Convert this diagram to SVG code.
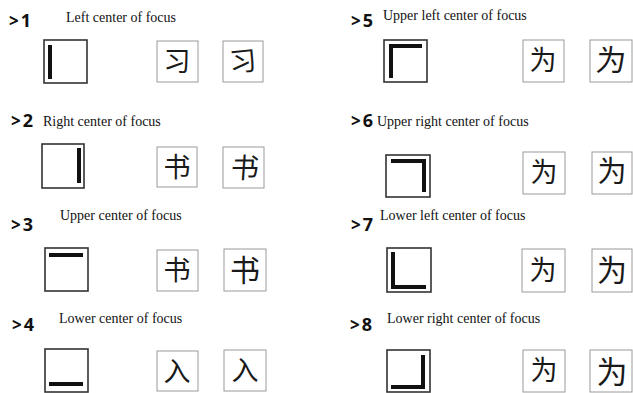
<svg xmlns="http://www.w3.org/2000/svg" width="633" height="393" viewBox="0 0 633 393">
<style>
.num{font-family:"Open Sans","DejaVu Sans",sans-serif;font-weight:bold;font-size:18px;fill:#111}
.gt{font-size:17px}
.lbl{font-family:"Liberation Serif",serif;font-size:14px;fill:#111}
.fb{fill:#fff;stroke:#333;stroke-width:1.6}
.bar{fill:#111}
.cb{fill:#fff;stroke:#9a9a9a;stroke-width:1}
.ch{font-family:"Noto Sans CJK SC",sans-serif;font-weight:400;font-size:27px;fill:#1a1a1a;text-anchor:middle}
</style>
<rect width="633" height="393" fill="#fff"/>

<g id="item1">
<text class="num" x="9" y="27"><tspan class="gt">&gt;</tspan><tspan dx="2">1</tspan></text>
<text class="lbl" x="66" y="22">Left center of focus</text>
<rect class="fb" x="44" y="40" width="43" height="43"/>
<rect class="bar" x="48" y="45" width="4" height="34"/>
<rect class="cb" x="157" y="41" width="41" height="41"/>
<text class="ch" x="177" y="71">习</text>
<rect class="cb" x="223" y="41" width="40" height="41"/>
<text class="ch" x="243" y="71" transform="rotate(-6 243 61)">习</text>
</g>

<g id="item2">
<text class="num" x="11" y="127"><tspan class="gt">&gt;</tspan><tspan dx="2">2</tspan></text>
<text class="lbl" x="43" y="126">Right center of focus</text>
<rect class="fb" x="42" y="144" width="42" height="44"/>
<rect class="bar" x="77" y="148" width="4" height="35"/>
<rect class="cb" x="157" y="147" width="40" height="40"/>
<text class="ch" x="177" y="177">书</text>
<rect class="cb" x="223" y="147" width="41" height="41"/>
<text class="ch" x="245" y="178" transform="translate(245 168) skewX(-4) translate(-245 -168)" style="font-size:28px">书</text>
</g>

<g id="item3">
<text class="num" x="11" y="231"><tspan class="gt">&gt;</tspan><tspan dx="2">3</tspan></text>
<text class="lbl" x="60" y="220">Upper center of focus</text>
<rect class="fb" x="45" y="248" width="43" height="43"/>
<rect class="bar" x="49" y="253" width="34" height="4"/>
<rect class="cb" x="157" y="250" width="41" height="41"/>
<text class="ch" x="177" y="280">书</text>
<rect class="cb" x="224" y="249" width="42" height="42"/>
<text class="ch" x="245" y="281" style="font-size:30px">书</text>
</g>

<g id="item4">
<text class="num" x="12" y="331"><tspan class="gt">&gt;</tspan><tspan dx="2">4</tspan></text>
<text class="lbl" x="59" y="323">Lower center of focus</text>
<rect class="fb" x="45" y="349" width="43" height="43"/>
<rect class="bar" x="49" y="382" width="34" height="4"/>
<rect class="cb" x="157" y="351" width="41" height="40"/>
<text class="ch" x="177" y="381">入</text>
<rect class="cb" x="224" y="350" width="42" height="41"/>
<text class="ch" x="245" y="380">入</text>
</g>

<g id="item5">
<text class="num" x="351" y="27"><tspan class="gt">&gt;</tspan><tspan dx="2">5</tspan></text>
<text class="lbl" x="383" y="20">Upper left center of focus</text>
<rect class="fb" x="384" y="40" width="43" height="42"/>
<rect class="bar" x="389" y="44" width="4" height="34"/>
<rect class="bar" x="389" y="44" width="33" height="4"/>
<rect class="cb" x="523" y="40" width="41" height="42"/>
<text class="ch" x="543" y="70">为</text>
<rect class="cb" x="590" y="40" width="42" height="42"/>
<text class="ch" x="611" y="71" transform="translate(611 61) skewX(-6) translate(-611 -61)" style="font-size:30px">为</text>
</g>

<g id="item6">
<text class="num" x="351" y="127"><tspan class="gt">&gt;</tspan><tspan dx="2">6</tspan></text>
<text class="lbl" x="377" y="126">Upper right center of focus</text>
<rect class="fb" x="386" y="155" width="44" height="42"/>
<rect class="bar" x="391" y="159" width="35" height="4"/>
<rect class="bar" x="422" y="159" width="4" height="33"/>
<rect class="cb" x="523" y="152" width="42" height="42"/>
<text class="ch" x="544" y="182">为</text>
<rect class="cb" x="592" y="152" width="40" height="42"/>
<text class="ch" x="612" y="182" style="font-size:29px">为</text>
</g>

<g id="item7">
<text class="num" x="351" y="231"><tspan class="gt">&gt;</tspan><tspan dx="2">7</tspan></text>
<text class="lbl" x="380" y="220">Lower left center of focus</text>
<rect class="fb" x="387" y="248" width="44" height="44"/>
<rect class="bar" x="391" y="252" width="4" height="36"/>
<rect class="bar" x="391" y="285" width="35" height="4"/>
<rect class="cb" x="522" y="249" width="43" height="43"/>
<text class="ch" x="543" y="280">为</text>
<rect class="cb" x="592" y="249" width="40" height="43"/>
<text class="ch" x="612" y="281" style="font-size:30px">为</text>
</g>

<g id="item8">
<text class="num" x="350" y="331"><tspan class="gt">&gt;</tspan><tspan dx="2">8</tspan></text>
<text class="lbl" x="387" y="323">Lower right center of focus</text>
<rect class="fb" x="387" y="350" width="43" height="42"/>
<rect class="bar" x="421" y="355" width="4" height="34"/>
<rect class="bar" x="391" y="385" width="34" height="4"/>
<rect class="cb" x="523" y="350" width="42" height="42"/>
<text class="ch" x="544" y="380">为</text>
<rect class="cb" x="590" y="350" width="42" height="42"/>
<text class="ch" x="612" y="383" style="font-size:31px">为</text>
</g>
</svg>
